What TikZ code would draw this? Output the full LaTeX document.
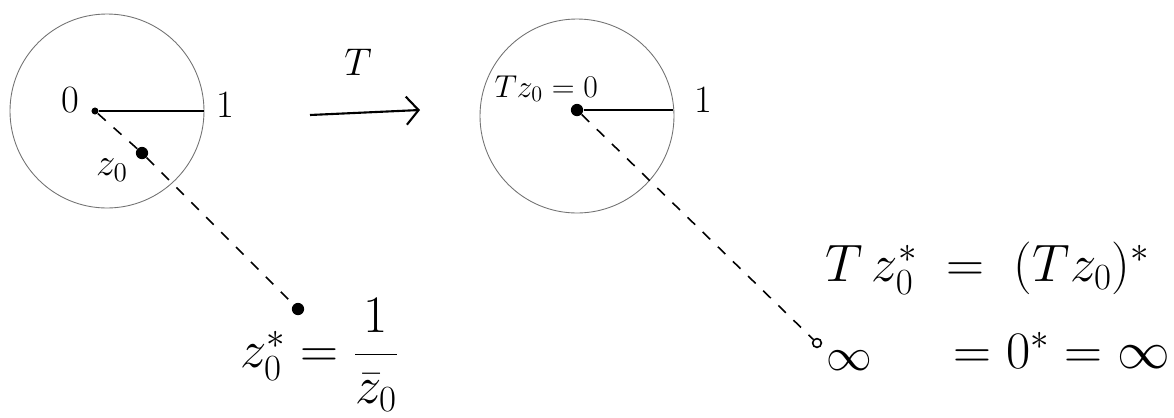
\documentclass[tikz,border=0pt]{standalone}
\usepackage{fix-cm}
\usepackage{amsmath}
\usetikzlibrary{arrows.meta,positioning,calc}
\begin{document}
\begin{tikzpicture}[x=0.02cm, y=-0.02cm,
    disk/.style={draw=black!55, line width=0.5pt},
    radiusline/.style={draw=black, line width=1.2pt},
    dot/.style={circle, fill=black, inner sep=0pt, minimum size=7pt},
    opendot/.style={circle, draw=black, line width=0.9pt, inner sep=0pt, minimum size=5pt},
    dashline/.style={draw=black, line width=0.9pt, dash pattern=on 6pt off 6pt},
    lbl/.style={font=\fontsize{22}{26}\selectfont, inner sep=1pt},
    eqn/.style={font=\fontsize{30}{34}\selectfont, inner sep=1pt}
]
\useasboundingbox (0,0) rectangle (1174,417);
% left disk
\draw[disk] (107,111) circle[radius=97];
\node[dot, minimum size=4pt] (o1) at (95,111) {};
\node[dot] (z0) at (142,153) {};
\node[dot] (zs) at (298,309) {};
\coordinate (e1) at (204,111);
\draw[radiusline] (o1) -- (e1);
\draw[dashline] (o1) -- (z0) -- (zs);
\node[lbl] (l0) at (70,100) {$0$};
\node[lbl] (l1) at (225,105) {$1$};
\node[lbl] (lz) at (112,170) {$z_0$};
\node[eqn, anchor=west] (lzs) at (238,355) {$z_0^{*}=\dfrac{1}{\bar z_0}$};
% the map T
\coordinate (ta) at (310,115);
\coordinate (tb) at (420,110);
\draw[line width=1.2pt, -{Straight Barb[length=7pt, width=16pt]}] (ta) -- (tb);
\node[lbl] (lt) at (358,62) {$T$};
% right disk
\draw[disk] (577,116) circle[radius=97];
\node[dot] (o2) at (577,110) {};
\node[opendot] (inf) at (817,343) {};
\coordinate (e2) at (673,110);
\draw[radiusline] (o2) -- (e2);
\draw[dashline] (o2) -- (inf);
\node[lbl, font=\fontsize{18}{22}\selectfont, anchor=south east] (ltz) at (600,104) {$Tz_0=0$};
\node[lbl] (l2) at (703,100) {$1$};
\node[lbl, font=\fontsize{26}{30}\selectfont] (linf) at (849,361) {$\infty$};
% equations
\node[eqn, anchor=east] (eq1) at (1152,268) {$T\,z_0^{*} \;=\; (Tz_0)^{*}$};
\node[eqn, anchor=east] (eq2) at (1172,350) {$= 0^{*} = \infty$};
\end{tikzpicture}
\end{document}
